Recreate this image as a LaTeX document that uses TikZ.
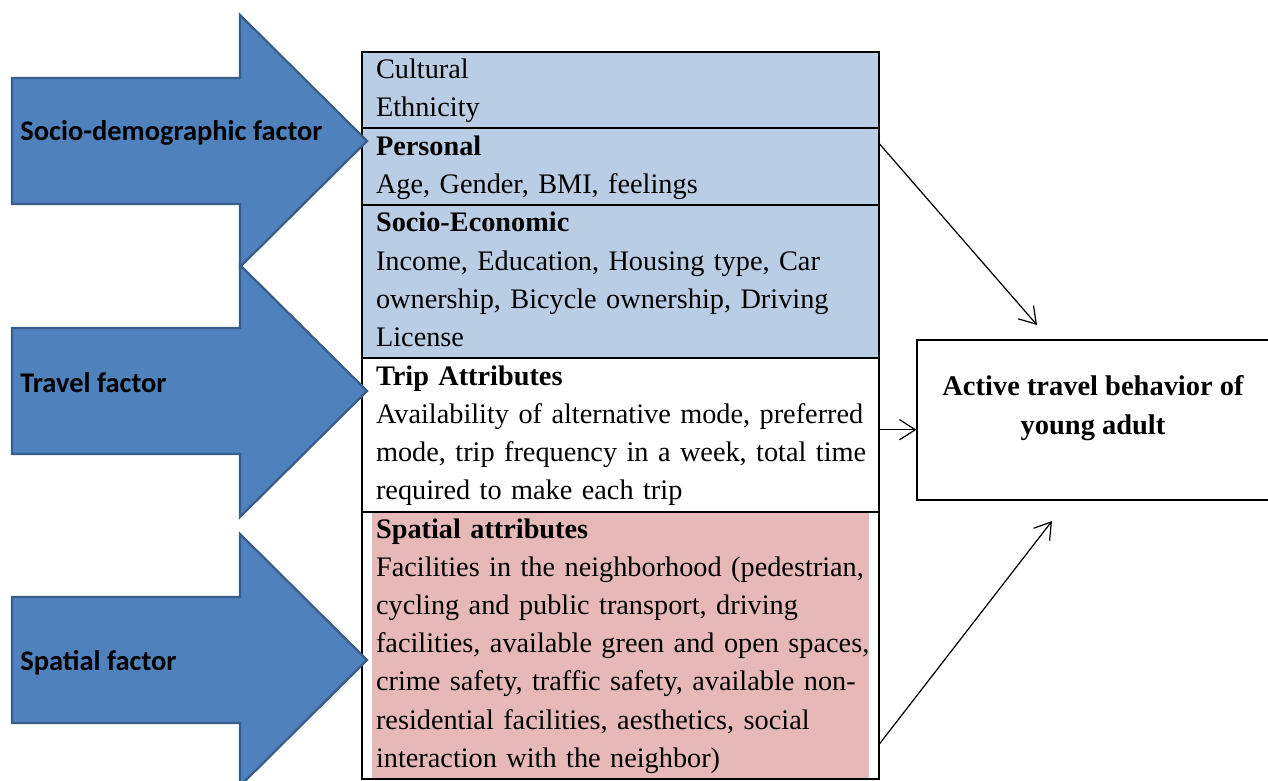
\documentclass[tikz,border=0pt]{standalone}
\usepackage{fontspec}
\setmainfont{Liberation Serif}
\newfontfamily\calibrifont{Carlito}
\usetikzlibrary{arrows.meta}
\usetikzlibrary{positioning}
\definecolor{factorblue}{HTML}{4F81BD}
\definecolor{factoredge}{HTML}{385D8A}
\definecolor{rowblue}{HTML}{B9CDE5}
\definecolor{rowpink}{HTML}{E6B9B8}
\newcommand{\rowlines}[1]{\begin{tabular}{@{}l@{}}#1\end{tabular}}

\begin{document}
\begin{tikzpicture}[x=0.02cm,y=-0.02cm,
  attrrow/.style={draw,line width=1.1pt,outer sep=0pt,text width=9.78cm,inner xsep=0.28cm,
    inner ysep=0pt,align=left,font=\fontsize{16.1}{21.7}\selectfont},
  pinkrow/.style={path picture={\fill[rowpink]
    ([xshift=0.2cm]path picture bounding box.north west) rectangle
    ([xshift=-0.2cm]path picture bounding box.south east);}},
  factorarrow/.style={fill=factorblue,draw=factoredge,line width=1.3pt,line join=miter},
  factorlabel/.style={anchor=west,inner sep=0pt,font=\calibrifont\bfseries\fontsize{16.2}{19}\selectfont},
  goalbox/.style={draw,line width=0.7pt,minimum width=7.06cm,minimum height=3.2cm},
  goaltext/.style={align=center,font=\bfseries\fontsize{16.2}{22.2}\selectfont},
  link/.style={line width=0.7pt,-{Straight Barb[length=9pt,width=11.5pt]}}]
\useasboundingbox (0,0) rectangle (1268,781);

% attribute table
\node[attrrow,fill=rowblue,anchor=north,minimum height=1.52cm] (cult) at (620.5,52)
  {\rowlines{Cultural\\Ethnicity}};
\node[attrrow,fill=rowblue,minimum height=1.54cm,below=0pt of cult] (pers)
  {\rowlines{\textbf{Personal}\\Age, Gender, BMI, feelings}};
\node[attrrow,fill=rowblue,minimum height=3.02cm,below=0pt of pers] (socio)
  {\rowlines{\textbf{Socio-Economic}\\Income, Education, Housing type, Car\\
   ownership, Bicycle ownership, Driving\\License}};
\node[attrrow,minimum height=3.08cm,below=0pt of socio] (trip)
  {\rowlines{\textbf{Trip Attributes}\\Availability of alternative mode, preferred\\
   mode, trip frequency in a week, total time\\required to make each trip}};
\node[attrrow,pinkrow,minimum height=5.32cm,below=0pt of trip] (spat)
  {\rowlines{\textbf{Spatial attributes}\\Facilities in the neighborhood (pedestrian,\\
   cycling and public transport, driving\\
   facilities, available green and open spaces,\\
   crime safety, traffic safety, available non-\\
   residential facilities, aesthetics, social\\
   interaction with the neighbor)}};

% factor arrows
\foreach \cy/\ty/\txt/\nm in {141/133/{Socio-demographic factor}/sdf,
    391/383/{Travel factor}/trf, 660/663/{Spatial factor}/spf} {
  \draw[factorarrow] (12,{\cy-63}) -- (240,{\cy-63}) -- (240,{\cy-126})
    -- (367,\cy) -- (240,{\cy+126}) -- (240,{\cy+63}) -- (12,{\cy+63}) -- cycle;
  \node[factorlabel] (\nm) at (20,\ty) {\txt};
}

% outcome
\node[goalbox] (goal) at (1093.5,420) {};
\node[goaltext] (goaltxt) at (1093,408) {Active travel behavior of\\young adult};

\coordinate (t1) at (1037,325);
\coordinate (t3) at (1052,521);
\coordinate (c2) at ([yshift=0.1cm]trip.east);
\draw[link] ([yshift=-0.3cm]pers.north east) -- (t1);
\draw[link] (c2) -- (c2 -| goal.west);
\draw[link] ([yshift=0.68cm]spat.south east) -- (t3);
\end{tikzpicture}
\end{document}
